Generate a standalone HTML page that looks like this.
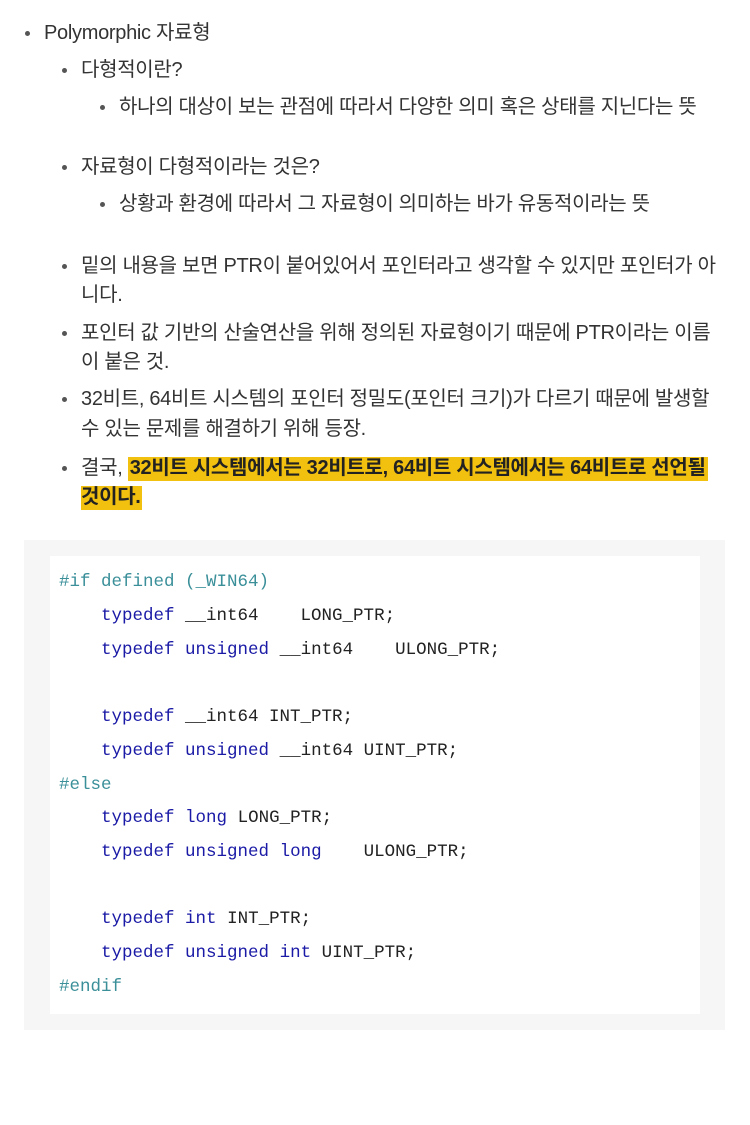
<!DOCTYPE html>
<html><head><meta charset="utf-8"><style>
body{margin:0;width:750px;height:1125px;background:#fff;position:relative;overflow:hidden;font-family:"Liberation Sans","Noto Sans CJK KR",sans-serif;color:#333}
.t{position:absolute;font-size:20px;line-height:30px;white-space:nowrap;letter-spacing:-0.3px;margin-top:2px}
.b{position:absolute;width:5px;height:5px;border-radius:50%;background:#555;margin-top:2px}
.hl{background:#f2c00f;font-weight:bold;color:#222}
.box{position:absolute;left:24px;top:540px;width:701px;height:490px;background:#f6f6f6}
.inner{position:absolute;left:50px;top:556px;width:650px;height:458px;background:#fff}
.c{position:absolute;left:59px;font-family:"Liberation Mono",monospace;font-size:17.5px;line-height:24px;white-space:pre;color:#222;margin-top:1px}
.k{color:#1a1aa6}.p{color:#3a8f99}
</style></head><body>
<div class="b" style="left:25px;top:29px"></div>
<div class="t" style="left:44px;top:16px">Polymorphic 자료형</div>
<div class="b" style="left:62px;top:66px"></div>
<div class="t" style="left:81px;top:53px">다형적이란?</div>
<div class="b" style="left:100px;top:103px"></div>
<div class="t" style="left:119px;top:90px">하나의 대상이 보는 관점에 따라서 다양한 의미 혹은 상태를 지닌다는 뜻</div>
<div class="b" style="left:62px;top:163px"></div>
<div class="t" style="left:81px;top:150px">자료형이 다형적이라는 것은?</div>
<div class="b" style="left:100px;top:200px"></div>
<div class="t" style="left:119px;top:187px">상황과 환경에 따라서 그 자료형이 의미하는 바가 유동적이라는 뜻</div>
<div class="b" style="left:62px;top:262px"></div>
<div class="t" style="left:81px;top:249px">밑의 내용을 보면 PTR이 붙어있어서 포인터라고 생각할 수 있지만 포인터가 아</div>
<div class="t" style="left:81px;top:278px">니다.</div>
<div class="b" style="left:62px;top:329px"></div>
<div class="t" style="left:81px;top:316px">포인터 값 기반의 산술연산을 위해 정의된 자료형이기 때문에 PTR이라는 이름</div>
<div class="t" style="left:81px;top:345px">이 붙은 것.</div>
<div class="b" style="left:62px;top:395px"></div>
<div class="t" style="left:81px;top:382px">32비트, 64비트 시스템의 포인터 정밀도(포인터 크기)가 다르기 때문에 발생할</div>
<div class="t" style="left:81px;top:412px">수 있는 문제를 해결하기 위해 등장.</div>
<div class="b" style="left:62px;top:464px"></div>
<div class="t" style="left:81px;top:451px">결국, <span class="hl" style="padding:0 2px 2px 2px">32비트 시스템에서는 32비트로, 64비트 시스템에서는 64비트로 선언될</span></div>
<div class="t" style="left:81px;top:480px"><span class="hl" style="padding:0 1px 2px 0">것이다.</span></div>
<div class="box"></div>
<div class="inner"></div>
<div class="c" style="top:569px"><span class="p">#if defined (_WIN64)</span></div>
<div class="c" style="top:603px">    <span class="k">typedef</span> __int64    LONG_PTR;</div>
<div class="c" style="top:637px">    <span class="k">typedef</span> <span class="k">unsigned</span> __int64    ULONG_PTR;</div>
<div class="c" style="top:704px">    <span class="k">typedef</span> __int64 INT_PTR;</div>
<div class="c" style="top:738px">    <span class="k">typedef</span> <span class="k">unsigned</span> __int64 UINT_PTR;</div>
<div class="c" style="top:772px"><span class="p">#else</span></div>
<div class="c" style="top:805px">    <span class="k">typedef</span> <span class="k">long</span> LONG_PTR;</div>
<div class="c" style="top:839px">    <span class="k">typedef</span> <span class="k">unsigned</span> <span class="k">long</span>    ULONG_PTR;</div>
<div class="c" style="top:906px">    <span class="k">typedef</span> <span class="k">int</span> INT_PTR;</div>
<div class="c" style="top:940px">    <span class="k">typedef</span> <span class="k">unsigned</span> <span class="k">int</span> UINT_PTR;</div>
<div class="c" style="top:974px"><span class="p">#endif</span></div>
</body></html>
